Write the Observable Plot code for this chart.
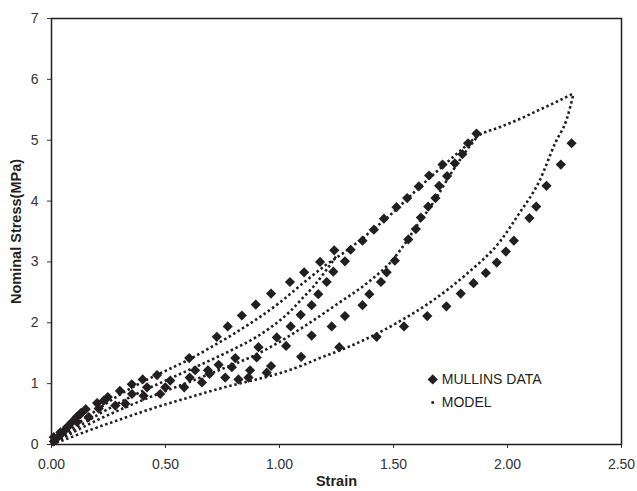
<!DOCTYPE html>
<html><head><meta charset="utf-8">
<script src="https://cdn.jsdelivr.net/npm/d3@7"></script>
<script src="https://cdn.jsdelivr.net/npm/@observablehq/plot@0.6"></script>
<style>
html,body{margin:0;padding:0;background:#fff;}
#chart svg{display:block;}
</style></head><body><div id="chart"></div>
<script>
// ---- tick values ----
const xTicks = [0, 0.5, 1, 1.5, 2, 2.5];
const yTicks = [0, 1, 2, 3, 4, 5, 6, 7];
const legendLabels = ["MULLINS DATA", "MODEL"];

// ---- MODEL curves: [strain, stress] ----
const modelVirgin = [[0,0],[0.1,0.3],[0.2,0.57],[0.3,0.82],[0.4,1.03],[0.5,1.21],[0.6,1.39],[0.7,1.6],[0.8,1.82],[0.9,2.06],[1.0,2.33],[1.1,2.64],[1.2,2.94],[1.3,3.2],[1.4,3.5],[1.5,3.82],[1.6,4.18],[1.7,4.52],[1.8,4.85],[1.87,5.07],[1.97,5.22],[2.06,5.36],[2.14,5.5],[2.22,5.64],[2.29,5.77]];
const modelUnload1 = [[0,0],[0.1,0.25],[0.2,0.48],[0.3,0.69],[0.4,0.88],[0.5,1.05],[0.6,1.22],[0.7,1.39],[0.8,1.57],[0.9,1.77],[0.96,1.92],[1.05,2.2],[1.1,2.4],[1.15,2.6],[1.2,2.84],[1.25,3.1]];
const modelUnload2 = [[0,0],[0.1,0.21],[0.2,0.4],[0.3,0.57],[0.4,0.73],[0.5,0.88],[0.6,1.02],[0.7,1.17],[0.8,1.32],[0.9,1.48],[0.96,1.6],[1.1,1.92],[1.25,2.3],[1.4,2.7],[1.5,3.05],[1.55,3.3],[1.6,3.58],[1.67,3.95],[1.75,4.44],[1.82,4.83],[1.87,5.07]];
const modelUnload3 = [[0,0],[0.1,0.14],[0.2,0.28],[0.3,0.41],[0.4,0.54],[0.5,0.66],[0.6,0.77],[0.7,0.88],[0.8,0.98],[0.9,1.07],[1.0,1.17],[1.1,1.3],[1.17,1.41],[1.3,1.6],[1.4,1.77],[1.53,2.03],[1.67,2.36],[1.82,2.8],[1.97,3.35],[2.05,3.79],[2.14,4.33],[2.21,4.96],[2.26,5.35],[2.29,5.77]];

// ---- MULLINS DATA: [strain, stress] ----
const dataCycle1Load = [[0.01,0.05],[0.03,0.13],[0.05,0.2],[0.07,0.29],[0.09,0.37],[0.11,0.45],[0.13,0.52],[0.15,0.58],[0.2,0.68],[0.247,0.78],[0.3,0.88],[0.352,0.99],[0.4,1.07],[0.463,1.14],[0.604,1.42],[0.725,1.77],[0.773,1.94],[0.835,2.12],[0.896,2.3],[0.963,2.48],[1.046,2.67],[1.108,2.83],[1.178,3.0],[1.24,3.19]];
const dataCycle2Load = [[0.01,0.12],[0.069,0.28],[0.127,0.5],[0.229,0.72],[0.353,0.83],[0.419,0.94],[0.521,1.05],[0.63,1.22],[0.733,1.31],[0.806,1.42],[0.908,1.6],[0.988,1.76],[1.049,1.94],[1.093,2.13],[1.141,2.29],[1.17,2.47],[1.207,2.67],[1.236,2.84],[1.287,3.01],[1.312,3.2],[1.364,3.35],[1.414,3.53],[1.458,3.71],[1.513,3.9],[1.56,4.05],[1.611,4.24],[1.656,4.42],[1.715,4.6],[1.802,4.77],[1.827,4.95],[1.864,5.11]];
const dataCycle2Unload = [[1.769,4.62],[1.735,4.41],[1.7,4.25],[1.684,4.05],[1.652,3.91],[1.62,3.73],[1.598,3.54],[1.565,3.37],[1.506,3.02],[1.47,2.83],[1.445,2.67],[1.394,2.47],[1.364,2.29],[1.287,2.11],[1.229,1.94],[1.141,1.79],[1.029,1.62],[0.9,1.43],[0.791,1.27],[0.686,1.22],[0.606,1.1],[0.499,0.94],[0.404,0.8],[0.28,0.64],[0.163,0.45],[0.039,0.2]];
const dataCycle3Unload = [[2.281,4.95],[2.234,4.6],[2.171,4.25],[2.126,3.91],[2.096,3.72],[2.028,3.35],[1.993,3.17],[1.953,2.99],[1.905,2.82],[1.851,2.65],[1.795,2.48],[1.732,2.27],[1.648,2.11],[1.546,1.94],[1.426,1.77],[1.262,1.6],[1.095,1.44],[0.963,1.29],[0.944,1.18],[0.871,1.22],[0.864,1.1],[0.82,1.07],[0.762,1.1],[0.693,1.16],[0.66,1.02],[0.582,0.94],[0.477,0.83],[0.324,0.67],[0.207,0.59],[0.112,0.37]];

// ---- build tables ----
const toRows = (arr, series) => arr.map(([x, y]) => ({x, y, series}));
const modelRows = [
  ...toRows(modelVirgin, "virgin"),
  ...toRows(modelUnload1, "unload1"),
  ...toRows(modelUnload2, "unload2"),
  ...toRows(modelUnload3, "unload3")
];
const dataRows = [
  ...toRows(dataCycle1Load, "c1"),
  ...toRows(dataCycle2Load, "c2"),
  ...toRows(dataCycle2Unload, "c2u"),
  ...toRows(dataCycle3Unload, "c3u")
];
const legendPos = {x: 1.672, y: [1.07, 0.69]};

const ink = "#231f20";
const font = "'Liberation Sans', Arial, Helvetica, sans-serif";

const chart = Plot.plot({
  width: 637,
  height: 491,
  marginLeft: 51,
  marginRight: 16,
  marginTop: 18,
  marginBottom: 47,
  style: {fontFamily: font, fontSize: "14px", color: "#333", background: "#fff"},
  x: {domain: [0, 2.5], ticks: xTicks, tickFormat: d3.format(".2f"), label: null},
  y: {domain: [0, 7], ticks: yTicks, tickFormat: d3.format("d"), label: null},
  marks: [
    Plot.axisX({ticks: xTicks, tickFormat: d3.format(".2f"), tickSize: 4, tickPadding: 11, label: null, fontSize: 14}),
    Plot.axisY({ticks: yTicks, tickFormat: d3.format("d"), tickSize: 4, tickPadding: 9, label: null, fontSize: 14}),
    Plot.line(modelRows, {x: "x", y: "y", z: "series", curve: "monotone-x", stroke: ink, strokeWidth: 2.6, strokeDasharray: "2.5,2.7", strokeLinecap: "butt"}),
    Plot.dot(dataRows, {x: "x", y: "y", symbol: "diamond2", r: 4.6, fill: ink, stroke: "none"}),
    // legend
    Plot.dot([legendLabels[0]], {x: legendPos.x, y: legendPos.y[0], symbol: "diamond2", r: 4.6, fill: ink}),
    Plot.dot([legendLabels[1]], {x: legendPos.x, y: legendPos.y[1], symbol: "square", r: 1.5, fill: ink}),
    Plot.text([legendLabels[0]], {x: legendPos.x, y: legendPos.y[0], text: d => d, dx: 9, textAnchor: "start", fontSize: 14, fill: ink}),
    Plot.text([legendLabels[1]], {x: legendPos.x, y: legendPos.y[1], text: d => d, dx: 9, textAnchor: "start", fontSize: 14, fill: ink}),
    // axis titles
    Plot.text(["Strain"], {frameAnchor: "bottom", dy: 37, lineAnchor: "middle", textAnchor: "middle", text: d => d, fontWeight: "bold", fontSize: 14.5, fill: ink}),
    Plot.text(["Nominal Stress(MPa)"], {frameAnchor: "left", dx: -35, rotate: -90, textAnchor: "middle", lineAnchor: "middle", text: d => d, fontWeight: "bold", fontSize: 14.5, fill: ink}),
    Plot.frame({stroke: ink, strokeWidth: 1.5})
  ]
});
document.getElementById("chart").appendChild(chart);
</script>
</body></html>
